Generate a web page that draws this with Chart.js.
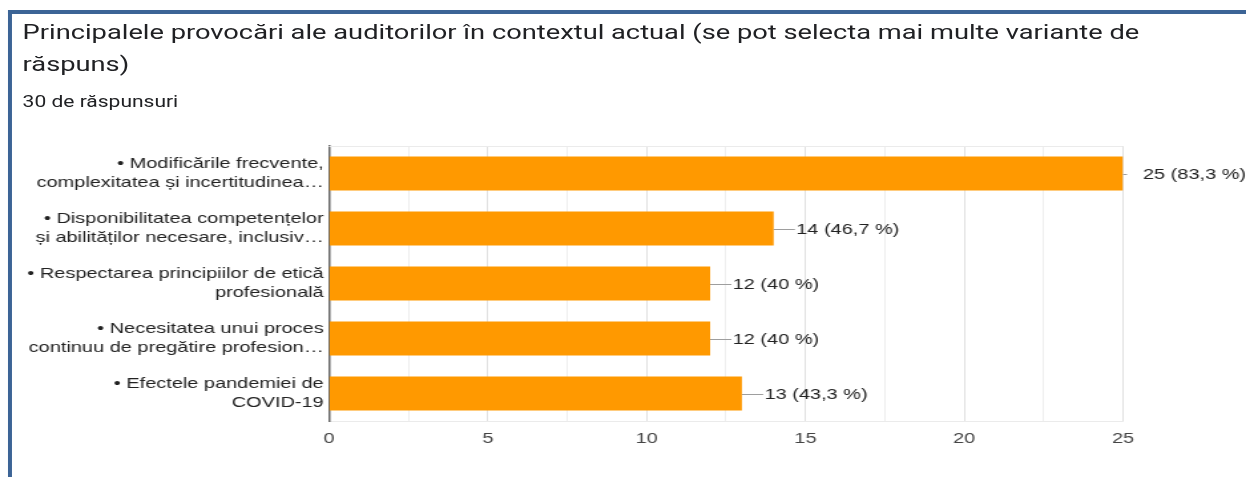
<!DOCTYPE html>
<html>
<head>
<meta charset="utf-8">
<script src="https://cdn.jsdelivr.net/npm/chart.js@4"></script>
<style>
html, body { margin: 0; padding: 0; background: #fff; overflow: hidden; }
/* the reference is stretched sideways, so the whole page is drawn narrow and scaled */
#page { position: absolute; left: 0; top: 0; width: 937px; height: 477px; transform: scaleX(1.3298); transform-origin: 0 0; }
#frame { position: absolute; left: 6px; top: 10px; right: 0; bottom: 0; border-left: 3px solid #3c6496; border-top: 4px solid #3c6496; }
#title { position: absolute; left: 17px; top: 16px; font-family: Roboto; font-size: 20.5px; line-height: 32px; color: #202124; white-space: nowrap; }
#count { position: absolute; left: 17px; top: 92px; font-family: Roboto; font-size: 15.8px; line-height: 20px; color: #202124; }
#chart { position: absolute; left: 0; top: 0; }
</style>
</head>
<body>
<div id="page">
  <div id="frame"></div>
  <div id="title">Principalele provocări ale auditorilor în contextul actual (se pot selecta mai multe variante de<br>răspuns)</div>
  <div id="count">30 de răspunsuri</div>
  <canvas id="chart" width="937" height="477"></canvas>
</div>
<script>
const categories = [
    ['• Modificările frecvente,', 'complexitatea și incertitudinea…'],
    ['• Disponibilitatea competențelor', 'și abilităților necesare, inclusiv…'],
    ['• Respectarea principiilor de etică', 'profesională'],
    ['• Necesitatea unui proces', 'continuu de pregătire profesion…'],
    ['• Efectele pandemiei de', 'COVID-19']
];
const answers = [25, 14, 12, 12, 13];
const totalResponses = 30;
const axisMax = 25;
const axisStep = 2.5; // gridline every 2.5, labels every 5

function percentText(v) {
    let p = Math.round(v / totalResponses * 1000) / 10;
    return String(p).replace('.', ',');
}

// value labels with the little connector line, like Google Forms
const barLabels = {
    id: 'barLabels',
    beforeDatasetsDraw(chart) {
        let ctx = chart.ctx;
        let area = chart.chartArea;
        ctx.save();
        ctx.strokeStyle = '#ebebeb';
        ctx.lineWidth = 1;
        ctx.beginPath();
        ctx.moveTo(area.left, area.top + 0.5);
        ctx.lineTo(area.right, area.top + 0.5);
        ctx.stroke();
        ctx.restore();
    },
    afterDatasetsDraw(chart) {
        let ctx = chart.ctx;
        let area = chart.chartArea;
        let meta = chart.getDatasetMeta(0);
        ctx.save();
        ctx.font = '15px Arial';
        ctx.textBaseline = 'middle';
        ctx.textAlign = 'left';
        meta.data.forEach((bar, i) => {
            let atEdge = bar.x >= area.right - 1;
            let lineLen = atEdge ? 3 : 16;
            let textX = bar.x + (atEdge ? 15 : 17);
            let y = Math.round(bar.y) + 0.5;
            ctx.strokeStyle = '#9e9e9e';
            ctx.lineWidth = 1;
            ctx.beginPath();
            ctx.moveTo(bar.x, y);
            ctx.lineTo(bar.x + lineLen, y);
            ctx.stroke();
            ctx.fillStyle = '#222';
            ctx.fillText(answers[i] + ' (' + percentText(answers[i]) + ' %)', textX, bar.y + 1);
        });
        ctx.restore();
    }
};

let ctx = document.getElementById('chart').getContext('2d');
let chart = new Chart(ctx, {
    type: 'bar',
    data: {
        labels: categories,
        datasets: [{
            data: answers,
            backgroundColor: '#ff9900',
            borderWidth: 0,
            barPercentage: 0.62,
            categoryPercentage: 1
        }]
    },
    options: {
        indexAxis: 'y',
        responsive: false,
        animation: false,
        devicePixelRatio: 1,
        layout: { padding: { top: 146, right: 92.5, left: 0, bottom: 0 } },
        plugins: {
            legend: { display: false },
            tooltip: { enabled: false }
        },
        scales: {
            x: {
                min: 0,
                max: axisMax,
                afterFit: scale => { scale.height = 56; },
                grid: {
                    drawTicks: false,
                    color: c => (c.tick && c.tick.value % 5 === 0) ? '#e0e0e0' : '#eeeeee'
                },
                border: { color: '#ebebeb', width: 1 },
                ticks: {
                    stepSize: axisStep,
                    autoSkip: false,
                    maxRotation: 0,
                    padding: 9,
                    color: '#444',
                    font: { family: 'Arial', size: 15 },
                    callback: v => v % 5 === 0 ? v : ''
                }
            },
            y: {
                afterFit: scale => { scale.width = 247.4; },
                grid: { display: false, drawTicks: false },
                border: { color: '#666', width: 1.5 },
                ticks: {
                    padding: 4,
                    color: '#222',
                    font: { family: 'Arial', size: 15, lineHeight: 1.3 }
                }
            }
        }
    },
    plugins: [barLabels]
});
</script>
</body>
</html>
